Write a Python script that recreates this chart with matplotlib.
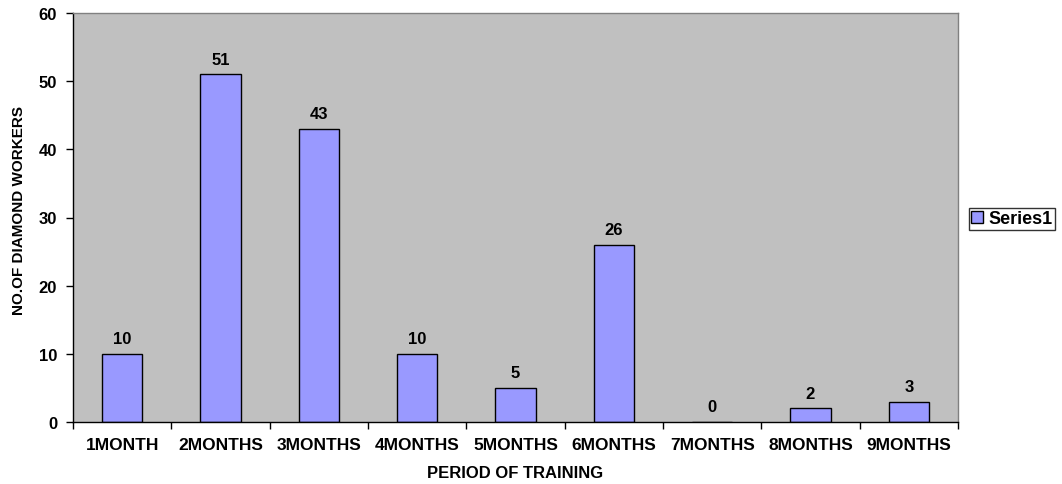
import matplotlib
matplotlib.use("Agg")
import matplotlib.pyplot as plt
from matplotlib.ticker import MultipleLocator, FixedLocator

categories = ["1MONTH", "2MONTHS", "3MONTHS", "4MONTHS", "5MONTHS",
              "6MONTHS", "7MONTHS", "8MONTHS", "9MONTHS"]
workers = [10, 51, 43, 10, 5, 26, 0, 2, 3]
series_name = "Series1"

plt.rcParams["font.family"] = ["Liberation Sans", "DejaVu Sans"]
plt.rcParams["font.weight"] = "bold"

FS = 12.5

W, H = 1062, 485
fig = plt.figure(figsize=(W / 100, H / 100), dpi=100)
ax = fig.add_axes([73 / W, 1 - 423 / H, (958 - 73) / W, (423 - 14) / H])
ax.set_facecolor("#C0C0C0")

x = list(range(len(categories)))
bars = ax.bar(x, workers, width=0.41, color="#9999FF", edgecolor="black",
              linewidth=1.0, label=series_name, zorder=2)

for xi, v in zip(x, workers):
    ax.annotate(str(v), (xi, v), xytext=(0, 5.5), textcoords="offset points",
                ha="center", va="bottom", fontsize=FS - 0.5, fontweight="bold")

ax.set_xlim(-0.5, len(categories) - 0.5)
ax.set_ylim(0, 60)
ax.yaxis.set_major_locator(MultipleLocator(10))
ax.set_xticks(x)
ax.set_xticklabels(categories, fontsize=FS, fontweight="bold")
ax.tick_params(axis="x", which="major", length=0, pad=11)
ax.xaxis.set_minor_locator(FixedLocator([i + 0.5 for i in range(-1, len(categories))]))
ax.tick_params(axis="x", which="minor", length=5, width=1, color="black")
ax.tick_params(axis="y", length=5, width=1, labelsize=FS - 0.5, pad=6.5)
for lbl in ax.get_yticklabels():
    lbl.set_fontweight("bold")

for side in ("top", "right"):
    ax.spines[side].set_color("#808080")
    ax.spines[side].set_linewidth(1.0)
for side in ("left", "bottom"):
    ax.spines[side].set_color("black")
    ax.spines[side].set_linewidth(1.0)

ax.set_xlabel("PERIOD OF TRAINING", fontsize=FS - 0.5, fontweight="bold", labelpad=9)
ax.set_ylabel("NO.OF DIAMOND WORKERS", fontsize=11, fontweight="bold")
ax.yaxis.set_label_coords(-0.053, 0.52)

leg = ax.legend(loc="center left", bbox_to_anchor=(969 / W, 1 - 220 / H),
                bbox_transform=fig.transFigure, frameon=True, fancybox=False,
                edgecolor="black", fontsize=13, handlelength=0.68,
                handleheight=0.68, handletextpad=0.3, borderpad=0.12,
                borderaxespad=0)
leg.get_frame().set_linewidth(1.0)
for t in leg.get_texts():
    t.set_fontweight("bold")

fig.savefig("out.png", dpi=100)
